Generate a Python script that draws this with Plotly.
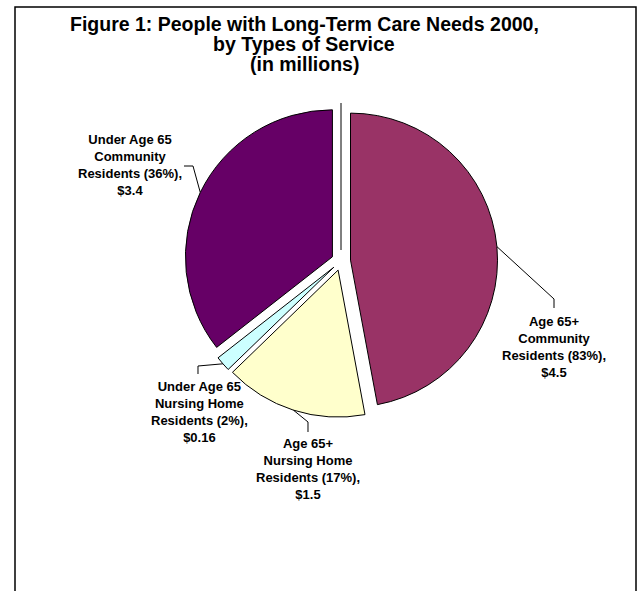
import math
import plotly.graph_objects as go

# ---- data ----
categories = ["Age 65+ Community Residents", "Age 65+ Nursing Home Residents",
              "Under Age 65 Nursing Home Residents", "Under Age 65 Community Residents"]
values = [4.5, 1.5, 0.16, 3.4]
label_texts = [
    "Age 65+<br>Community<br>Residents (83%),<br>$4.5",
    "Age 65+<br>Nursing Home<br>Residents (17%),<br>$1.5",
    "Under Age 65<br>Nursing Home<br>Residents (2%),<br>$0.16",
    "Under Age 65<br>Community<br>Residents (36%),<br>$3.4",
]
colors = ["#993366", "#FFFFCC", "#CCFFFF", "#660066"]
title_lines = ["Figure 1: People with Long-Term Care Needs 2000,",
               "by Types of Service", "(in millions)"]

W, H = 644, 591
FONT = "Liberation Sans, Arial, Helvetica, sans-serif"


def px(x):
    return x / W


def py(y):
    return 1 - y / H


# pie geometry (pixels)
CX, CY, R, PULL = 341, 261, 147, 0.065
half = R * (1 + PULL)

fig = go.Figure(go.Pie(
    labels=categories, values=values, sort=False, direction="clockwise",
    rotation=0, pull=[PULL] * 4, textinfo="none", hoverinfo="label+value",
    marker=dict(colors=colors, line=dict(color="black", width=1)),
    domain=dict(x=[px(CX - half), px(CX + half)], y=[py(CY + half), py(CY - half)]),
    showlegend=False,
))

# label anchors: leader elbow points and label block centres (pixels)
elbows = [[(554, 299), (554, 308)], [(308, 422), (308, 432)],
          [(198, 366), (198, 374)], [(193, 166), (184, 166)]]
label_pos = [(554, 347), (308, 469), (199, 412), (130, 165)]

total = sum(values)
cum = 0
shapes = []
annotations = []
for i, v in enumerate(values):
    mid = (cum + v / 2) / total * 2 * math.pi
    cum += v
    sx = CX + R * PULL * math.sin(mid)
    sy = CY - R * PULL * math.cos(mid)
    ex = sx + R * math.sin(mid)
    ey = sy - R * math.cos(mid)
    pts = [(ex, ey)] + elbows[i]
    path = "M " + " L ".join(f"{px(x):.5f},{py(y):.5f}" for x, y in pts)
    shapes.append(dict(type="path", xref="paper", yref="paper", path=path,
                       line=dict(color="black", width=1)))
    lx, ly = label_pos[i]
    annotations.append(dict(
        x=px(lx), y=py(ly), xref="paper", yref="paper", xanchor="center",
        yanchor="middle", align="center", showarrow=False,
        text="<b>" + label_texts[i].replace("<br>", "</b><br><b>") + "</b>",
        font=dict(family=FONT, size=13, color="black")))

for j, (t, yy) in enumerate(zip(title_lines, [24, 44, 64])):
    annotations.append(dict(
        x=px(304), y=py(yy), xref="paper", yref="paper", xanchor="center",
        yanchor="middle", showarrow=False, text=f"<b>{t}</b>",
        font=dict(family=FONT, size=19.5, color="black")))

# chart frame and centre artefact line
shapes.append(dict(type="rect", xref="paper", yref="paper",
                   x0=px(15), x1=px(636), y0=py(620), y1=py(7),
                   line=dict(color="black", width=1.5), fillcolor="rgba(0,0,0,0)"))
shapes.append(dict(type="line", xref="paper", yref="paper",
                   x0=px(CX), x1=px(CX), y0=py(103), y1=py(250),
                   line=dict(color="black", width=1)))

fig.update_layout(
    width=W, height=H, autosize=False,
    margin=dict(l=0, r=0, t=0, b=0),
    paper_bgcolor="white", plot_bgcolor="white",
    shapes=shapes, annotations=annotations,
)

fig.write_html("out.html")
